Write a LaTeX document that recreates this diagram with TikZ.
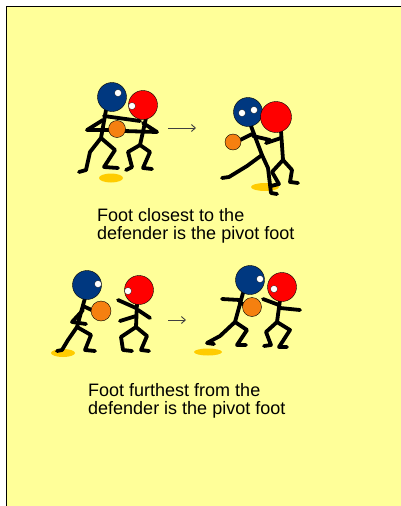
\documentclass[tikz,border=0pt]{standalone}
\usepackage{fontspec}
\setmainfont{Liberation Sans}
\usetikzlibrary{arrows.meta,positioning}

\definecolor{pad}{RGB}{255,255,153}
\definecolor{teamblue}{RGB}{0,56,128}
\definecolor{teamred}{RGB}{255,0,0}
\definecolor{ballorange}{RGB}{245,128,16}
\definecolor{spotgold}{RGB}{255,204,0}

\begin{document}
\begin{tikzpicture}[x=1pt,y=-1pt,
  head/.style={circle,draw,thin,fill=#1,minimum size=29pt,inner sep=0pt},
  eye/.style={circle,draw,very thin,fill=white,minimum size=7pt,inner sep=0pt},
  ball/.style={circle,draw,thin,fill=ballorange,minimum size=#1,inner sep=0pt},
  limb/.style={line width=3.8pt,line join=round,line cap=round},
  footspot/.style={fill=spotgold,draw=none},
  note/.style={font=\fontsize{18}{18.6}\selectfont,align=left,anchor=north west,inner sep=0pt},
  ar/.style={-{Straight Barb[length=4pt,width=7pt]},line width=0.9pt,draw=black!75}]
\useasboundingbox (0,0) rectangle (401,506);
\fill[white] (0,0) rectangle (401,506);
\fill[pad] (6,6) rectangle (401,506);
\draw[line width=1.8pt] (6.5,506) -- (6.5,6.5) -- (401,6.5);

% ---- top pair, before the pivot
\fill[footspot] (111,178) ellipse (12 and 4.5);
\draw[limb] (106,110) -- (101,138);
\draw[limb] (103,120) -- (87,130) -- (110,130);
\draw[limb] (104,116) -- (140,121);
\draw[limb] (101,138) -- (90,152) -- (86,170) -- (79,172);
\draw[limb] (101,138) -- (115,150) -- (104,167) -- (118,168);
\draw[limb] (146,118) -- (140,145);
\draw[limb] (143,123) -- (157,132) -- (124,131);
\draw[limb] (140,145) -- (128,152) -- (132,167) -- (126,170);
\draw[limb] (140,145) -- (150,152) -- (143,168) -- (152,169);
\node[ball=17pt] (b1) at (117,129) {};
\node[head=teamblue] (bh1) at (112,97) {};
\node[eye] (be1) at (118,93) {};
\node[head=teamred] (rh1) at (143,105) {};
\node[eye] (re1) at (132,106) {};

% ---- top pair, after the pivot
\fill[footspot] (265,187) ellipse (14 and 4);
\draw[limb] (251,126) -- (262,155);
\draw[limb] (252,134) -- (238,141);
\draw[limb] (253,136) -- (270,140);
\draw[limb] (262,155) -- (247,166) -- (229,177) -- (222,178);
\draw[limb] (262,155) -- (268,168) -- (271,193) -- (277,194);
\draw[limb] (281,131) -- (283,160);
\draw[limb] (281,138) -- (266,143);
\draw[limb] (283,160) -- (272,172) -- (279,184) -- (271,186);
\draw[limb] (283,160) -- (292,170) -- (290,182) -- (298,183);
\node[ball=16pt] (b2) at (233,142) {};
\node[head=teamblue] (bh2) at (248,112) {};
\node[eye] (be2a) at (242,113) {};
\node[eye] (be2b) at (254,110) {};
\node[head=teamred,minimum size=31pt] (rh2) at (276,117) {};

\coordinate (s1) at (168,128);
\coordinate (e1) at (196,128);
\draw[ar] (s1) -- (e1);

\node[note] (t1) at (97,208) {Foot closest to the\\defender is the pivot foot};

% ---- bottom pair, before the pivot
\fill[footspot] (63,353) ellipse (12 and 4);
\draw[limb] (85,298) -- (77,327);
\draw[limb] (83,306) -- (96,312);
\draw[limb] (83,310) -- (72,322) -- (86,324);
\draw[limb] (77,327) -- (68,340) -- (62,350) -- (57,351);
\draw[limb] (77,327) -- (91,335) -- (85,350) -- (95,351);
\draw[limb] (137,303) -- (136,327);
\draw[limb] (136,308) -- (118,300);
\draw[limb] (136,316) -- (120,321);
\draw[limb] (138,310) -- (150,318);
\draw[limb] (136,327) -- (121,337) -- (123,350) -- (132,351);
\draw[limb] (136,327) -- (147,336) -- (141,350) -- (149,351);
\node[ball=20pt] (b3) at (101,311) {};
\node[head=teamblue] (bh3) at (87,285) {};
\node[eye] (be3) at (98,284) {};
\node[head=teamred] (rh3) at (139,290) {};
\node[eye] (re3) at (128,291) {};

% ---- bottom pair, after the pivot
\fill[footspot] (208,352) ellipse (14 and 3.5);
\draw[limb] (243,293) -- (235,322);
\draw[limb] (240,300) -- (222,299);
\draw[limb] (240,303) -- (252,307);
\draw[limb] (235,322) -- (220,336) -- (207,343) -- (214,344);
\draw[limb] (235,322) -- (247,330) -- (237,345) -- (246,345);
\draw[limb] (280,300) -- (277,322);
\draw[limb] (279,305) -- (263,299);
\draw[limb] (280,308) -- (300,310);
\draw[limb] (277,322) -- (266,332) -- (271,345) -- (264,346);
\draw[limb] (277,322) -- (290,330) -- (279,347) -- (287,347);
\node[ball=19pt] (b4) at (252,307) {};
\node[head=teamblue] (bh4) at (250,280) {};
\node[eye] (be4) at (260,279) {};
\node[head=teamred] (rh4) at (282,287) {};
\node[eye] (re4) at (274,289) {};

\coordinate (s2) at (168,320);
\coordinate (e2) at (186,320);
\draw[ar] (s2) -- (e2);

\node[note] (t2) at (88,383) {Foot furthest from the\\defender is the pivot foot};
\end{tikzpicture}
\end{document}
